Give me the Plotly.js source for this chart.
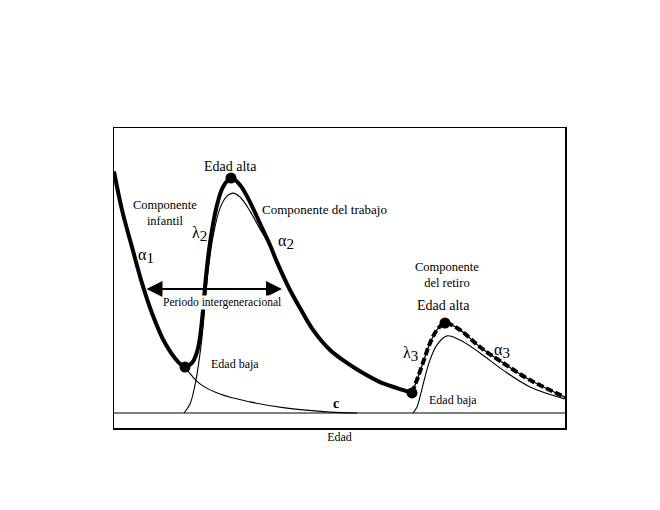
<!DOCTYPE html>
<html>
<head>
<meta charset="utf-8">
<script src="https://cdn.plot.ly/plotly-3.0.1.min.js"></script>
<style>html,body{margin:0;padding:0;background:#fff;}#chart{width:660px;height:510px;}</style>
</head>
<body>
<div id="chart"></div>
<script>
// Constant level c
const baseAge = [0, 90.2];
const baseRate = [5, 5];

// Total schedule (thick): childhood part, down to "Edad baja"
const totChildAge  = [0, 1.6, 3.6, 5.6, 7.6, 10.2, 13.0, 14.2];
const totChildRate = [85.5, 72.7, 60.3, 48.3, 38.3, 28.3, 21.7, 20.3];

// Total schedule (thick): labour part, from low point to the retirement low point
const totLabourAge  = [14.2, 15.6, 16.6, 17.2, 17.8, 18.2, 18.8, 19.6, 20.6, 21.8, 23.4, 25.2, 27.2, 29.6, 31.2, 32.6, 35.2, 37.2, 39.8, 43.2, 46.6, 49.8, 53.2, 56.6, 59.6];
const totLabourRate = [20.3, 21.7, 25.3, 30.3, 39.3, 47.0, 56.7, 66.0, 74.3, 80.3, 83.3, 81.0, 75.3, 66.7, 61.0, 55.3, 46.0, 40.0, 32.7, 26.0, 21.7, 18.3, 15.3, 13.3, 11.7];

// Total schedule (thick dashed): retirement part
const totRetireAge  = [59.6, 60.8, 62.2, 63.2, 64.6, 66.2, 69.2, 73.2, 77.8, 83.2, 90.2];
const totRetireRate = [11.7, 17.0, 23.7, 28.3, 32.7, 35.0, 32.7, 27.0, 21.7, 16.0, 10.3];

// Components (thin lines)
const childAge  = [14.2, 17.2, 21.2, 27.2, 34.2, 43.2, 48.6];
const childRate = [20.3, 14.7, 11.3, 8.7, 6.7, 5.3, 5.0];

const labourAge  = [14.0, 15.2, 16.2, 16.8, 17.6, 18.2, 18.8, 19.8, 21.2, 22.6, 23.8, 25.2, 27.2, 29.2, 31.2, 32.6, 35.2, 37.2];
const labourRate = [5.0, 8.0, 14.3, 20.0, 30.3, 41.0, 52.0, 63.7, 73.3, 77.3, 78.3, 77.0, 72.3, 66.3, 60.7, 55.0, 45.7, 39.7];

const retireAge  = [59.8, 60.6, 61.4, 62.2, 63.2, 64.6, 66.6, 69.2, 73.2, 77.8, 83.2, 90.2];
const retireRate = [5.0, 7.0, 11.7, 17.0, 22.7, 27.7, 30.7, 29.3, 25.0, 19.3, 13.7, 9.7];

// Key points (dots)
const keyAge  = [14.2, 23.4, 59.6, 66.2];
const keyRate = [20.3, 83.3, 11.7, 35.0];

// Intergenerational period arrow (start age, end age, level)
const periodAge = [6.2, 33.6];
const periodRate = 46.3;

const F = "'Liberation Serif', 'Times New Roman', serif";
const thin = {color: "#000", width: 1.1, shape: "spline", smoothing: 1};
const thick = {color: "#000", width: 4, shape: "spline", smoothing: 1};

const traces = [
  {x: baseAge, y: baseRate, mode: "lines", line: {color: "#000", width: 1.1}},
  {x: childAge, y: childRate, mode: "lines", line: thin},
  {x: labourAge, y: labourRate, mode: "lines", line: thin},
  {x: retireAge, y: retireRate, mode: "lines", line: thin},
  {x: totChildAge, y: totChildRate, mode: "lines", line: thick},
  {x: totLabourAge, y: totLabourRate, mode: "lines", line: thick},
  {x: totRetireAge, y: totRetireRate, mode: "lines", line: {color: "#000", width: 1.3, shape: "spline", smoothing: 1}},
  {x: totRetireAge, y: totRetireRate, mode: "lines", line: {color: "#000", width: 4, dash: "7px,3px", shape: "spline", smoothing: 1}},
  {x: keyAge, y: keyRate, mode: "markers", marker: {color: "#000", size: 11}}
];

function txt(x, y, text, size, extra) {
  return Object.assign({x: x, y: y, xref: "x", yref: "y", text: text, showarrow: false,
    font: {family: F, size: size, color: "#000"}, xanchor: "center", yanchor: "middle"}, extra || {});
}
function greek(letter, digit) {
  return letter + "<sub><span style='font-size:15px'>" + digit + "</span></sub>";
}

const annotations = [
  txt(23.2, 87.3, "Edad alta", 14),
  txt(10.2, 71.7, "Componente<br>infantil", 12.5),
  txt(17.0, 64.6, greek("λ", "2"), 16),
  txt(6.4, 57.3, greek("α", "1"), 16),
  txt(42.0, 73.0, "Componente del trabajo", 13),
  txt(34.4, 62.0, greek("α", "2"), 16),
  txt(66.5, 51.0, "Componente<br>del retiro", 12.5),
  txt(65.8, 40.7, "Edad alta", 14),
  txt(59.3, 24.8, greek("λ", "3"), 16),
  txt(77.6, 25.8, greek("α", "3"), 16),
  txt(67.8, 9.3, "Edad baja", 12),
  txt(24.2, 21.3, "Edad baja", 12),
  txt(44.4, 8.2, "<b>c</b>", 14),
  {x: periodAge[1], y: periodRate, ax: periodAge[0], ay: periodRate, xref: "x", yref: "y", axref: "x", ayref: "y",
   text: "", showarrow: true, arrowhead: 2, startarrowhead: 2, arrowside: "end+start",
   arrowwidth: 2, arrowsize: 1.6, startarrowsize: 1.6, arrowcolor: "#000", standoff: 0, startstandoff: 0},
  txt(21.6, 42.0, "Periodo intergeneracional", 11.5, {bgcolor: "#fff", borderpad: 0})
];

const layout = {
  width: 660, height: 510,
  margin: {l: 114, r: 95, t: 128, b: 82, pad: 0},
  paper_bgcolor: "#fff", plot_bgcolor: "#fff",
  showlegend: false,
  font: {family: F, color: "#000"},
  xaxis: {range: [0, 90.2], showline: true, mirror: true, linecolor: "#000", linewidth: 1.5,
          ticks: "", showticklabels: false, showgrid: false, zeroline: false, fixedrange: true,
          title: {text: "Edad", font: {family: F, size: 12, color: "#000"}, standoff: 4}},
  yaxis: {range: [0, 100], showline: true, mirror: true, linecolor: "#000", linewidth: 1.5,
          ticks: "", showticklabels: false, showgrid: false, zeroline: false, fixedrange: true},
  annotations: annotations
};

Plotly.newPlot("chart", traces, layout, {displayModeBar: false, staticPlot: true});
</script>
</body>
</html>
